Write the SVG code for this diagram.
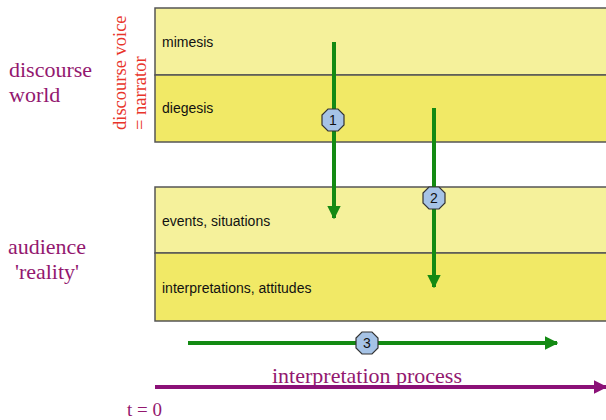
<svg xmlns="http://www.w3.org/2000/svg" width="606" height="420" viewBox="0 0 606 420">
<style>
.light{fill:#f5f19b;stroke:#555;stroke-width:1.5}
.dark{fill:#f1e966;stroke:#555;stroke-width:1.5}
.lbl{font-family:"Liberation Sans",Arial,sans-serif;font-size:14px;fill:#111}
.side{font-family:"Liberation Serif","Times New Roman",serif;font-size:22px;fill:#93186f}
.red{font-family:"Liberation Serif","Times New Roman",serif;font-size:18.5px;fill:#e8342a}
.g{stroke:#138a13;stroke-width:4;fill:none}
.badge{fill:#a6c3e6;stroke:#333;stroke-width:1.2}
.bt{font-family:"Liberation Sans",Arial,sans-serif;font-size:14px;fill:#111;text-anchor:middle}
</style>
<defs>
<marker id="ga" viewBox="0 0 10 10" refX="9" refY="5" markerWidth="3.4" markerHeight="3.4" orient="auto" markerUnits="strokeWidth"><path d="M0,0 L10,5 L0,10 z" fill="#138a13"/></marker>
<marker id="pa" viewBox="0 0 10 10" refX="9" refY="5" markerWidth="3.4" markerHeight="3.4" orient="auto" markerUnits="strokeWidth"><path d="M0,0 L10,5 L0,10 z" fill="#8b1177"/></marker>
<polygon id="oct" points="-5,-11 5,-11 11,-5 11,5 5,11 -5,11 -11,5 -11,-5"/>
</defs>
<g id="mimesis"><rect class="light" x="155" y="8" width="460" height="67"/><text class="lbl" x="162" y="47">mimesis</text></g>
<g id="diegesis"><rect class="dark" x="155" y="75" width="460" height="67"/><text class="lbl" x="162" y="113">diegesis</text></g>
<g id="events"><rect class="light" x="155" y="187" width="460" height="66"/><text class="lbl" x="162" y="226">events, situations</text></g>
<g id="interpretations"><rect class="dark" x="155" y="253" width="460" height="68"/><text class="lbl" x="162" y="293">interpretations, attitudes</text></g>
<g id="labels">
<text class="side" x="9" y="77">discourse</text>
<text class="side" x="9" y="102">world</text>
<text class="side" x="47" y="254" text-anchor="middle">audience</text>
<text class="side" x="47" y="279" text-anchor="middle">'reality'</text>
<text class="red" transform="translate(126,130) rotate(-90)">discourse voice</text>
<text class="red" transform="translate(146,130) rotate(-90)">= narrator</text>
<text class="side" x="367" y="383" text-anchor="middle">interpretation process</text>
<text class="side" x="127" y="416" style="font-size:19px">t = 0</text>
</g>
<g id="connectors">
<line class="g" x1="334" y1="42" x2="334" y2="218" marker-end="url(#ga)"/>
<line class="g" x1="434" y1="108" x2="434" y2="287" marker-end="url(#ga)"/>
<line class="g" x1="188" y1="343" x2="557" y2="343" marker-end="url(#ga)"/>
<line x1="155" y1="387" x2="606" y2="387" stroke="#8b1177" stroke-width="4" marker-end="url(#pa)"/>
</g>
<g id="badge1"><use href="#oct" class="badge" x="333" y="120"/><text class="bt" x="333" y="125">1</text></g>
<g id="badge2"><use href="#oct" class="badge" x="434" y="198"/><text class="bt" x="434" y="203">2</text></g>
<g id="badge3"><use href="#oct" class="badge" x="367" y="343"/><text class="bt" x="367" y="348">3</text></g>
</svg>
